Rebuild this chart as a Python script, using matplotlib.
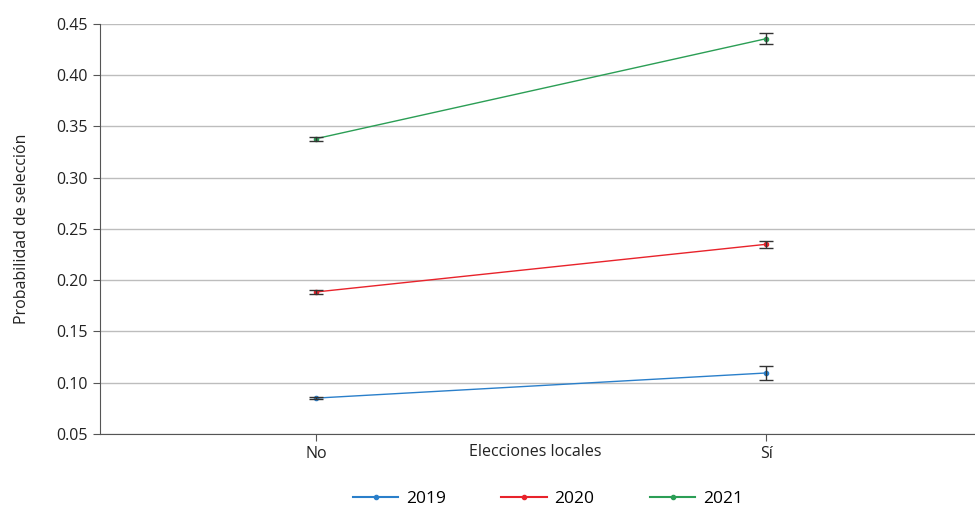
import matplotlib.pyplot as plt

plt.rcParams["font.family"] = ["Open Sans", "DejaVu Sans"]
plt.rcParams["font.size"] = 11

categories = ["No", "Sí"]
years = ["2019", "2020", "2021"]
prob_2019 = [0.085, 0.1095]
prob_2020 = [0.1885, 0.2350]
prob_2021 = [0.3380, 0.4355]
err_2019 = [0.0008, 0.0065]
err_2020 = [0.0015, 0.0035]
err_2021 = [0.0018, 0.0055]
colors = ["#2a7fca", "#e8232b", "#2b9e55"]

fig, ax = plt.subplots(figsize=(9.75, 5.07), dpi=100)
fig.subplots_adjust(left=0.1026, right=1.0, top=0.953, bottom=0.144)

x = list(range(len(categories)))
series = [(prob_2019, err_2019), (prob_2020, err_2020), (prob_2021, err_2021)]
for (vals, errs), year, color in zip(series, years, colors):
    ax.plot(x, vals, color=color, linewidth=1, marker="o", markersize=3,
            label=year, zorder=3)
    ax.errorbar(x, vals, yerr=errs, fmt="none", ecolor="#333333",
                elinewidth=1, capsize=5, capthick=1, zorder=4)

ax.set_xlim(-0.48, 1.464)
ax.set_ylim(0.05, 0.45)
ax.set_yticks([0.05, 0.10, 0.15, 0.20, 0.25, 0.30, 0.35, 0.40, 0.45])
ax.set_yticklabels([f"{v:.2f}" for v in ax.get_yticks()])
ax.set_xticks(x)
ax.set_xticklabels(categories)
ax.grid(axis="y", color="#bdbdbd", linewidth=1)
ax.set_axisbelow(True)

for side in ["top", "right"]:
    ax.spines[side].set_visible(False)
for side in ["left", "bottom"]:
    ax.spines[side].set_color("#555555")
ax.tick_params(axis="both", direction="out", length=5, color="#555555",
               labelcolor="#222222", pad=4, labelsize=11.5)

ax.set_ylabel("Probabilidad de selección", color="#222222", labelpad=19,
              fontsize=11.5)
# axis title sits on the same line as the category labels
ax.set_xlabel("Elecciones locales", color="#222222", fontsize=11.5)
ax.xaxis.set_label_coords(0.497, -0.025)

leg = ax.legend(loc="center", bbox_to_anchor=(0.512, -0.158), ncol=3,
                frameon=False, handlelength=2.6, handletextpad=0.45,
                columnspacing=3.2, fontsize=12.5, borderpad=0)
for line in leg.get_lines():
    line.set_linewidth(1.5)

fig.savefig("out.png", dpi=100)
